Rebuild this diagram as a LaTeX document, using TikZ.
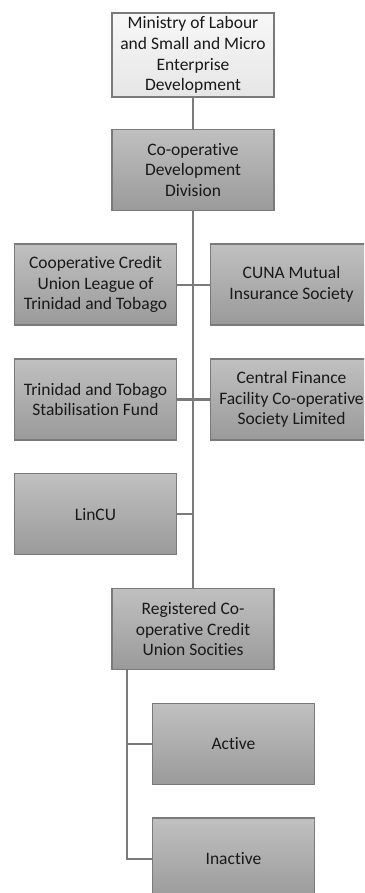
\documentclass[tikz,border=0pt]{standalone}
\usepackage{fontspec}
\setmainfont{Carlito}[Ligatures={NoCommon}]
\usepackage{xcolor}
\usepackage{tikz}
\usetikzlibrary{shapes.geometric, arrows}
\definecolor{boxedge}{HTML}{7A7A7A}
\definecolor{boxtop}{HTML}{C0C0C0}
\definecolor{boxbot}{HTML}{9A9A9A}
\tikzstyle{unit} = [rectangle, 
minimum width=162pt, 
minimum height=81pt, 
text centered, 
align=center, 
font=\fontsize{17.5}{20.7}\selectfont, 
text=black!90, 
draw=boxedge, 
line width=1.3pt, 
top color=boxtop, 
bottom color=boxbot]
\tikzstyle{ministry} = [unit, 
top color=white!97!black, 
bottom color=white!90!black]
\tikzstyle{link} = [draw=boxedge, line width=2.2pt]

\begin{document}
\begin{tikzpicture}[x=1pt, y=-1pt, node distance=114.8pt]
\clip (0,0) rectangle (364,893);
\useasboundingbox (0,0) rectangle (364,893);

\node (ministry) [ministry] at (193,55) {Ministry of Labour\\
and Small and Micro\\ Enterprise\\ Development};
\node (division) [unit, below of=ministry] {Co-operative\\ Development\\ Division};
\node (league) [unit, below of=division, xshift=-97.5pt] {Cooperative Credit\\
Union League of\\ Trinidad and Tobago};
\node (cuna) [unit, below of=division, xshift=98.5pt] {CUNA Mutual\\ Insurance Society};
\node (fund) [unit, below of=league] {Trinidad and Tobago\\ Stabilisation Fund};
\node (central) [unit, below of=cuna] {Central Finance\\
Facility Co-operative\\ Society Limited};
\node (lincu) [unit, below of=fund] {LinCU};
\node (registered) [unit, below of=lincu, xshift=97.5pt] {Registered Co-\\
operative Credit\\ Union Socities};
\node (active) [unit, below of=registered, xshift=40.5pt] {Active};
\node (inactive) [unit, below of=active] {Inactive};

\coordinate (regfoot) at ([xshift=16pt]registered.south west);

\draw [link] (ministry) -- (division);
\draw [link] (division) -- (registered);
\draw [link] (league) -- (cuna);
\draw [link] (fund) -- (central);
\draw [link] (lincu.east) -- (lincu.east -| division.south);
\draw [link] (regfoot) |- (active);
\draw [link] (regfoot) |- (inactive);

\end{tikzpicture}
\end{document}
